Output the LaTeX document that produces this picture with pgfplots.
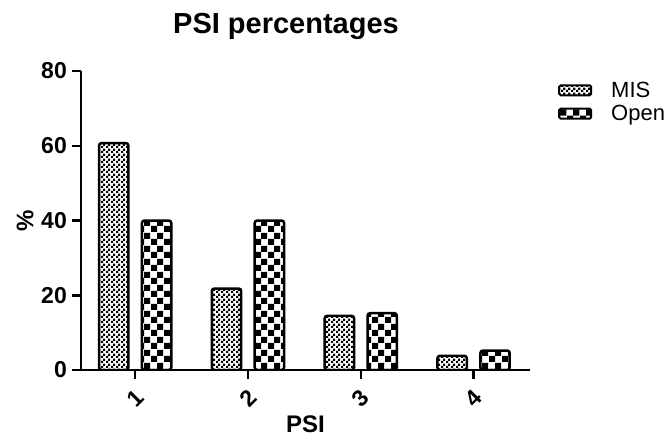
\documentclass[border=0pt]{standalone}
\usepackage{fontspec}
\setmainfont{Liberation Sans}
\usepackage{pgfplots}
\pgfplotsset{compat=1.18}
\usetikzlibrary{patterns}

% checker patterns (fine for MIS, coarse for Open)
\pgfdeclarepatternformonly{finecheck}{\pgfpointorigin}{\pgfqpoint{4.6pt}{4.6pt}}{\pgfqpoint{4.6pt}{4.6pt}}{%
  \pgfpathrectangle{\pgfpointorigin}{\pgfqpoint{2.3pt}{2.3pt}}%
  \pgfpathrectangle{\pgfqpoint{2.3pt}{2.3pt}}{\pgfqpoint{2.3pt}{2.3pt}}%
  \pgfusepath{fill}}
\pgfdeclarepatternformonly{coarsecheck}{\pgfpointorigin}{\pgfqpoint{12.6pt}{12.6pt}}{\pgfqpoint{12.6pt}{12.6pt}}{%
  \pgfpathrectangle{\pgfpointorigin}{\pgfqpoint{6.3pt}{6.3pt}}%
  \pgfpathrectangle{\pgfqpoint{6.3pt}{6.3pt}}{\pgfqpoint{6.3pt}{6.3pt}}%
  \pgfusepath{fill}}

\pgfplotstableread{
x MIS Open
1 60.7 40.0
2 21.8 40.0
3 14.5 15.2
4 3.8 5.2
}\psidata

\begin{document}
\begin{tikzpicture}
\useasboundingbox (0pt,0pt) rectangle (671pt,437pt);
\begin{axis}[
    at={(81pt,67pt)}, anchor=south west,
    scale only axis,
    width=449pt, height=299pt,
    ybar,
    bar width=0.26,
    xmin=0.52, xmax=4.5,
    ymin=0, ymax=80,
    xtick={1,2,3,4},
    ytick={0,20,40,60,80},
    axis x line=bottom, axis y line=left,
    axis line style={-, line width=2.5pt},
    tick style={line width=2.5pt, black},
    major tick length=9pt,
    tick align=outside,
    axis on top,
    /pgf/number format/assume math mode=true,
    ticklabel style={font=\fontsize{23}{27}\selectfont\bfseries},
    yticklabel style={anchor=east, inner sep=0pt, xshift=-5pt},
    xticklabel style={yshift=-19pt, rotate=45, anchor=center, inner sep=0pt},
    title={PSI percentages},
    title style={at={(axis description cs:0.4566,1)}, anchor=base, yshift=32pt,
      font=\fontsize{29}{33}\selectfont\bfseries},
    xlabel={PSI},
    xlabel style={at={(axis description cs:0.5,0)}, anchor=base, yshift=-62pt,
      font=\fontsize{24}{28}\selectfont\bfseries},
    ylabel={\%},
    ylabel style={at={(axis description cs:0,0.5)}, anchor=center, yshift=56pt,
      font=\fontsize{24}{28}\selectfont\bfseries},
    legend style={at={(axis description cs:1.0624,0.971)}, anchor=north west,
      draw=none, fill=none, inner sep=0pt, row sep=2.5pt,
      font=\fontsize{22}{26}\selectfont,
      cells={anchor=west}},
]
\addplot[draw=black, line width=2.5pt, rounded corners=2.5pt, pattern=finecheck, pattern color=black,
  bar shift=-0.19,
  legend image code/.code={\draw[draw=black, line width=2pt, rounded corners=1.5pt, pattern=finecheck, pattern color=black] (0pt,-5pt) rectangle (32pt,5pt); \path[draw=none, pattern=none] (0pt,0pt) -- (50pt,0pt);}]
  table[x=x, y=MIS] {\psidata};
\addplot[draw=black, line width=2.5pt, rounded corners=2.5pt, pattern=coarsecheck, pattern color=black,
  bar shift=0.19,
  legend image code/.code={\draw[draw=black, line width=2pt, rounded corners=1.5pt, pattern=coarsecheck, pattern color=black] (0pt,-5pt) rectangle (32pt,5pt); \path[draw=none, pattern=none] (0pt,0pt) -- (50pt,0pt);}]
  table[x=x, y=Open] {\psidata};
\legend{MIS, Open}
\end{axis}
\end{tikzpicture}
\end{document}
